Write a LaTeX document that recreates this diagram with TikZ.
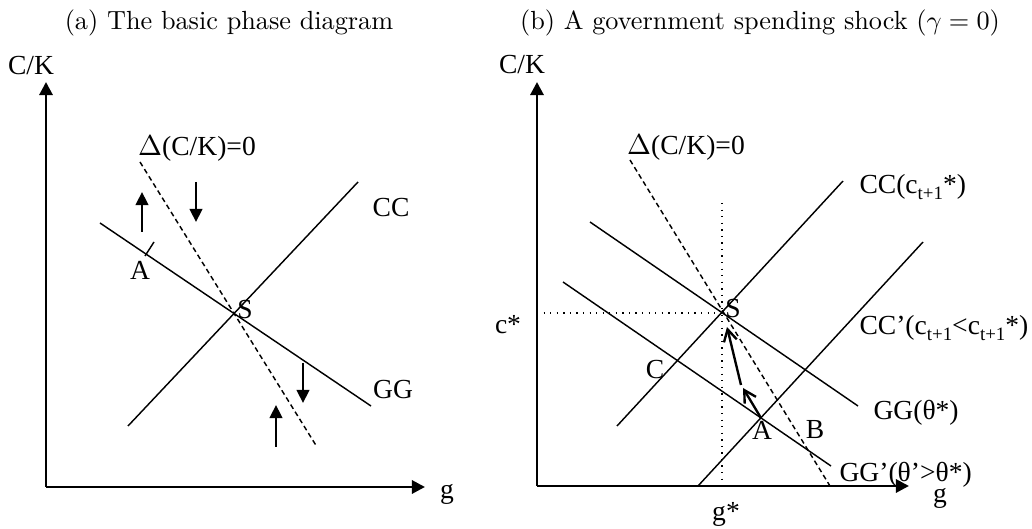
\documentclass[tikz,border=0pt]{standalone}
\usepackage{fontspec}
\usepackage{amsmath}
\newfontfamily\labfont{Liberation Serif}
\usetikzlibrary{positioning,calc,arrows.meta}
\newcommand{\lowidx}[1]{\raisebox{-0.22em}{\fontsize{7.2}{8}\selectfont #1}}

\begin{document}
\begin{tikzpicture}[x=0.381pt, y=-0.381pt,
          curve/.style={line width=0.55pt},
          axis/.style={line width=1.1pt, -{Triangle[length=5pt,width=5pt]}},
          nullcl/.style={line width=0.55pt, dash pattern=on 1.9pt off 1.3pt},
          guide/.style={line width=0.5pt, dotted},
          flow/.style={line width=0.95pt, -{Triangle[length=5pt,width=4.8pt]}},
          path/.style={line width=0.9pt, -{Straight Barb[length=4.5pt,width=5pt]}},
          lab/.style={font=\labfont\fontsize{10.5}{12}\selectfont, inner sep=0pt}]
  \useasboundingbox (0,0) rectangle (1032,529);
  % titles
  \node[anchor=base] (ttla) at (229,30) {(a) The basic phase diagram};
  \node[anchor=base] (ttlb) at (760,30) {(b) A government spending shock ($\gamma=0$)};

  % ---------- panel (a)
  \coordinate (oa) at (46,487);
  \coordinate (ya) at (46,82);
  \coordinate (xa) at (425,487);
  \draw[axis] (oa) -- (ya);
  \draw[axis] (oa) -- (xa);
  \node[lab] (cka) at (31,66) {C/K};
  \node[lab] (ga) at (447,494) {g};
  % loci
  \coordinate (dza1) at (140,162);
  \coordinate (dza2) at (317,447);
  \coordinate (cca1) at (128,426);
  \coordinate (cca2) at (358,182);
  \coordinate (gga1) at (100,223);
  \coordinate (gga2) at (371,406);
  \draw[nullcl] (dza1) -- (dza2);
  \draw[curve] (cca1) -- (cca2);
  \draw[curve] (gga1) -- (gga2);
  \node[lab] (dza) at (197,149) {$\Delta$(C/K)=0};
  \node[lab] (cclab) at (391,208) {CC};
  \node[lab] (gglab) at (393,390) {GG};
  \node[lab] (sa) at (245,310) {S};
  % point A
  \coordinate (ta1) at (154,242);
  \coordinate (ta2) at (145,256);
  \draw[curve] (ta1) -- (ta2);
  \node[lab] (aa) at (140,270) {A};
  % directions of motion
  \coordinate (u1s) at (142,232); \coordinate (u1e) at (142,192);
  \coordinate (d1s) at (196,182); \coordinate (d1e) at (196,222);
  \coordinate (d2s) at (303,363); \coordinate (d2e) at (303,403);
  \coordinate (u2s) at (276,447); \coordinate (u2e) at (276,405);
  \draw[flow] (u1s) -- (u1e);
  \draw[flow] (d1s) -- (d1e);
  \draw[flow] (d2s) -- (d2e);
  \draw[flow] (u2s) -- (u2e);

  % ---------- panel (b)
  \coordinate (ob) at (537,486);
  \coordinate (yb) at (537,82);
  \coordinate (xb) at (909,486);
  \draw[axis] (ob) -- (yb);
  \draw[axis] (ob) -- (xb);
  \node[lab] (ckb) at (522,65) {C/K};
  \node[lab] (gb) at (940,498) {g};
  % steady state guides
  \coordinate (sb) at (722,313);
  \coordinate (cst) at (537,313);
  \coordinate (gst) at (722,486);
  \coordinate (gtop) at (722,203);
  \draw[guide] (cst) -- (sb);
  \draw[guide] (gtop) -- (gst);
  \node[lab] (cstar) at (508,325) {c*};
  \node[lab] (gstar) at (726,514) {g*};
  % loci
  \coordinate (dzb1) at (630,160);
  \coordinate (dzb2) at (830,486);
  \coordinate (ccb1) at (617,426);
  \coordinate (ccb2) at (843,181);
  \coordinate (ccp1) at (698,486);
  \coordinate (ccp2) at (923,242);
  \coordinate (ggb1) at (590,222);
  \coordinate (ggb2) at (858,406);
  \coordinate (ggp1) at (563,282);
  \coordinate (ggp2) at (831,466);
  \draw[nullcl] (dzb1) -- (dzb2);
  \draw[curve] (ccb1) -- (ccb2);
  \draw[curve] (ccp1) -- (ccp2);
  \draw[curve] (ggb1) -- (ggb2);
  \draw[curve] (ggp1) -- (ggp2);
  \node[lab] (dzb) at (686,148) {$\Delta$(C/K)=0};
  \node[lab, anchor=west] (cclb) at (859,187) {CC(c\lowidx{t+1}*)};
  \node[lab, anchor=west] (ccplb) at (859,328) {CC’(c\lowidx{t+1}<c\lowidx{t+1}*)};
  \node[lab, anchor=west] (gglb) at (873,413) {GG(θ*)};
  \node[lab, anchor=base west] (ggplb) at (839,482) {GG’(θ’>θ*)};
  \node[lab] (sblab) at (733,309) {S};
  \node[lab] (cb) at (655,370) {C};
  \node[lab] (ab) at (762,430) {A};
  \node[lab] (bb) at (815,430) {B};
  % adjustment path
  \coordinate (pa) at (761,418);
  \coordinate (pm) at (743,388);
  \coordinate (pm2) at (741,385);
  \coordinate (ps) at (727,327);
  \draw[path] (pa) -- (pm);
  \draw[path] (pm2) -- (ps);
\end{tikzpicture}
\end{document}
